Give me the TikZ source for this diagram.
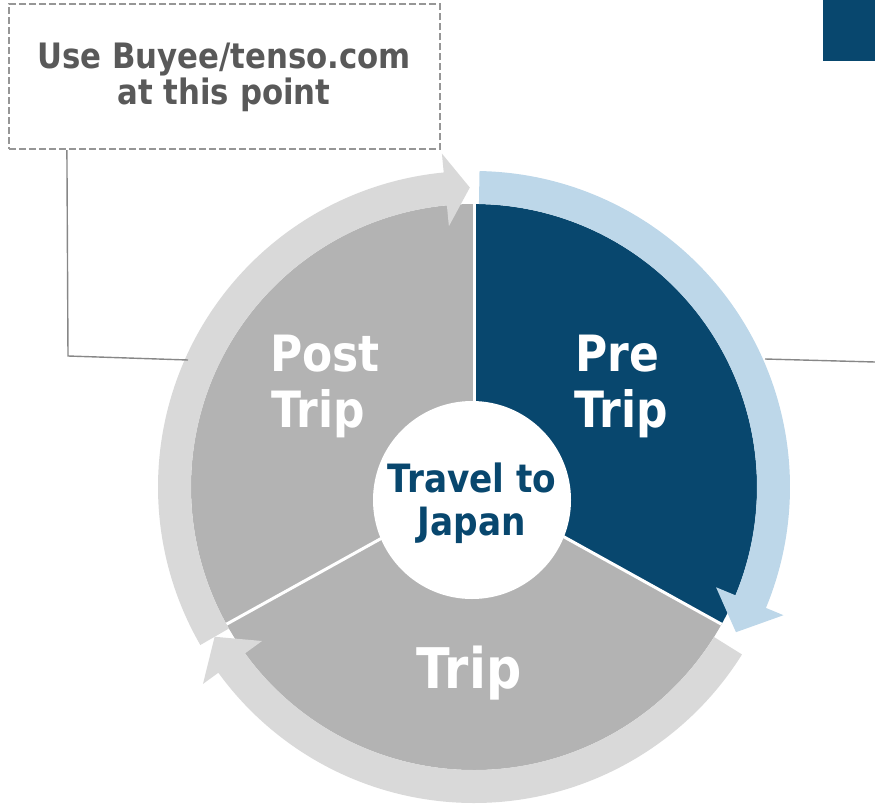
\documentclass[tikz,border=0pt]{standalone}
\usepackage{fontspec}
\newfontfamily\vfont[FakeStretch=0.88]{DejaVu Sans}
\definecolor{darkblue}{RGB}{8,71,110}
\definecolor{lightblue}{RGB}{189,215,233}
\definecolor{sectorgray}{RGB}{179,179,179}
\definecolor{arrowgray}{RGB}{217,217,217}
\definecolor{boxgray}{RGB}{150,150,150}
\definecolor{boxtext}{RGB}{89,89,89}
\definecolor{conngray}{RGB}{135,135,135}
\begin{document}
\begin{tikzpicture}[x=1pt,y=1pt,
  conn/.style={draw=conngray, line width=1.4pt},
  sep/.style={draw=white, line width=3pt},
  boxlbl/.style={anchor=base, inner sep=0, text=boxtext, font=\vfont\bfseries\fontsize{35}{38}\selectfont},
  hublbl/.style={anchor=base, inner sep=0, text=darkblue, font=\vfont\bfseries\fontsize{39}{43}\selectfont},
  seclbl/.style={anchor=base, inner sep=0, text=white, font=\vfont\bfseries\fontsize{50}{56}\selectfont},
  biglbl/.style={anchor=base, inner sep=0, text=white, font=\vfont\bfseries\fontsize{56}{60}\selectfont}]
\useasboundingbox (0,0) rectangle (875,-811);
\coordinate (C) at (474,-487);
% sectors
\fill[sectorgray] (C) -- ++(90:283) arc[start angle=90,end angle=209,radius=283] -- cycle;
\fill[sectorgray] (C) -- ++(209:283) arc[start angle=209,end angle=331,radius=283] -- cycle;
\fill[darkblue] (C) -- ++(-29:283) arc[start angle=-29,end angle=90,radius=283] -- cycle;
\draw[sep] (C) -- ++(90:283);
\draw[sep] (C) -- ++(-29:283);
\draw[sep] (C) -- ++(209:283);
% ring arrows
\begin{scope}[shift={(C)}]
\fill[lightblue] (89:316) arc[start angle=89,end angle=-22.5,radius=316] -- (-22.5:335) -- (-29:299.5) -- (-22.5:262) -- (-22.5:283) arc[start angle=-22.5,end angle=89,radius=283] -- cycle;
\fill[arrowgray] (-32:316) arc[start angle=-32,end angle=-144,radius=316] -- (-144:335) -- (-150:299.5) -- (-144:262) -- (-144:283) arc[start angle=-144,end angle=-32,radius=283] -- cycle;
\fill[arrowgray] (210:316) arc[start angle=210,end angle=95.5,radius=316] -- (95.5:335) -- (90.8:299.5) -- (95.5:262) -- (95.5:283) arc[start angle=95.5,end angle=210,radius=283] -- cycle;
\end{scope}
% hub
\node (hub) [circle, fill=white, minimum size=198pt, inner sep=0] at (472,-500) {};
\node (hub1) [hublbl] at (472,-492) {Travel to};
\node (hub2) [hublbl] at (472,-535) {Japan};
% sector labels
\node (pre1) [seclbl] at (617,-371) {Pre};
\node (pre2) [seclbl] at (621,-427) {Trip};
\node (post1) [seclbl] at (325,-371) {Post};
\node (post2) [seclbl] at (318,-427) {Trip};
\node (trip) [biglbl] at (469,-688) {Trip};
% callout box
\node (box) [draw=boxgray, line width=2.2pt, dash pattern=on 7pt off 3pt, minimum width=431pt, minimum height=145pt, inner sep=0] at (224.5,-76.5) {};
\node (boxt1) [boxlbl] at (224,-68) {Use Buyee/tenso.com};
\node (boxt2) [boxlbl] at (224,-104) {at this point};
% connectors
\coordinate (lend) at (188,-360);
\draw[conn] ([xshift=59pt]box.south west) -- (68,-356) -- (lend);
\coordinate (rstart) at (765,-359);
\coordinate (rend) at (875,-362);
\draw[conn] (rstart) -- (rend);
% corner block
\node (corner) [fill=darkblue, minimum width=52pt, minimum height=61pt, inner sep=0, anchor=north west] at (823,0) {};
\end{tikzpicture}
\end{document}
